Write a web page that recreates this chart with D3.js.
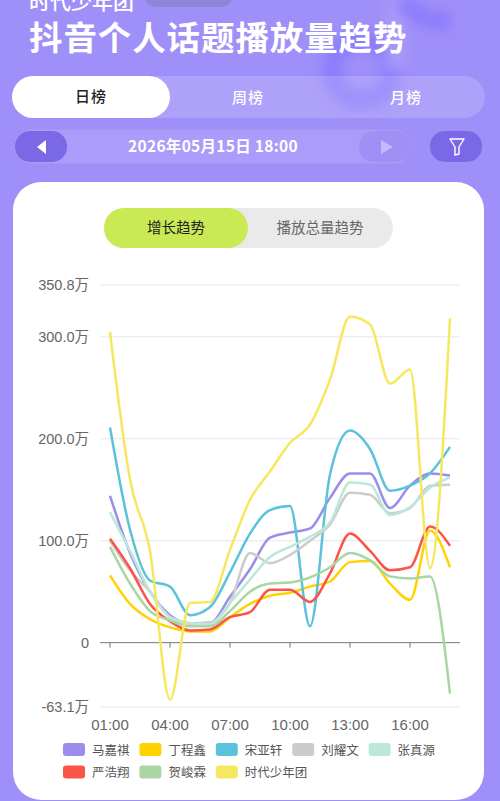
<!DOCTYPE html>
<html><head><meta charset="utf-8">
<script src="https://cdn.jsdelivr.net/npm/d3@7/dist/d3.min.js"></script>
<style>html,body{margin:0;padding:0;background:#9F8FF8;overflow:hidden}svg{display:block}
text{font-family:"Noto Sans CJK SC","Noto Sans",sans-serif}</style></head><body><div id="c"></div>
<script>
const hours=["01:00","02:00","03:00","04:00","05:00","06:00","07:00","08:00","09:00","10:00","11:00","12:00","13:00","14:00","15:00","16:00","17:00","18:00"];
const tickHours=["01:00","04:00","07:00","10:00","13:00","16:00"];
const yTicks=[-63.1,0,100,200,300,350.8];
const yLabels=["-63.1万","0","100.0万","200.0万","300.0万","350.8万"];
const names=["马嘉祺","丁程鑫","宋亚轩","刘耀文","张真源","严浩翔","贺峻霖","时代少年团"];
const colors=["#9A8EEA","#FFD200","#5CC2DC","#CCCCCC","#BCE8D8","#FA5548","#A9D6A2","#F6E85E"];
const maJiaqi=[144,88,50,27,19,19,45,72,103,108,112,142,166,166,132,154,166,164];
const dingChengxin=[66,38,23,15,11,11,25,38,46,49,55,60,79,80,58,42,110,74];
const songYaxuan=[211,111,61,55,27,35,69,107,130,134,16,165,208,190,149,154,166,192];
const liuYaowen=[100,71,50,25,19,20,39,88,78,86,100,116,147,145,127,132,154,155];
const zhangZhenyuan=[128,90,50,25,19,18,39,62,84,94,104,118,157,155,125,133,152,162];
const yanHaoxiang=[102,73,38,21,12,13,25,30,52,52,40,68,107,90,71,74,114,95];
const heJunlin=[94,58,31,22,16,16,31,50,58,59,64,74,88,81,65,63,65,-50];
const group=[305,160,90,-56,39,40,91,140,168,196,214,258,320,312,254,268,73,318];
const series=[maJiaqi,dingChengxin,songYaxuan,liuYaowen,zhangZhenyuan,yanHaoxiang,heJunlin,group];

const svg=d3.select("#c").append("svg").attr("width",500).attr("height",801);
const defs=svg.append("defs");
defs.append("filter").attr("id","b").attr("x","-40%").attr("y","-40%").attr("width","180%").attr("height","180%")
  .append("feGaussianBlur").attr("stdDeviation",6);
svg.append("rect").attr("width",500).attr("height",801).attr("fill","#9F8FF8");
const deco=svg.append("g").attr("filter","url(#b)").attr("fill","none");
deco.append("circle").attr("cx",362).attr("cy",70).attr("r",30).attr("stroke","#8C7DFC").attr("stroke-width",20);
deco.append("path").attr("d","M396 70V-5").attr("stroke","#A89AFB").attr("stroke-width",18);
deco.append("path").attr("d","M402 0Q415 20 450 22").attr("stroke","#8E7CFC").attr("stroke-width",18);

function rr(x,y,w,h,r,f,o){return svg.append("rect").attr("x",x).attr("y",y).attr("width",w).attr("height",h).attr("rx",r).attr("fill",f).attr("opacity",o==null?1:o);}
function tx(s,x,y,size,fill,weight,anchor,ls){return svg.append("text").attr("x",x).attr("y",y).attr("font-size",size).attr("fill",fill).attr("font-weight",weight||400).attr("text-anchor",anchor||"middle").attr("letter-spacing",ls||0).text(s);}

rr(145,-14,87,21,10,"#8F84D8");
tx("时代少年团",29,9,21,"#fff",500,"start",0);
tx("抖音个人话题播放量趋势",29,50,33.5,"#fff",700,"start",0.9);

rr(12,76,473,42,21,"#fff",0.16);
rr(12,76,158,42,21,"#fff");
tx("日榜",91,102,15,"#222",500,"middle",1);
tx("周榜",248,103,15,"#fff",500,"middle",1);
tx("月榜",406,103,15,"#fff",500,"middle",1);

rr(13.5,128.5,399,36,18,"#AB9CFB").attr("stroke","#A090F2").attr("stroke-width",2);
rr(15,131,52,31,15,"#7B68E6");
rr(359,131,52,31,15,"#A08FF5");
rr(430,131,52,31,15,"#7B68E6");
svg.append("path").attr("d","M37 147L46 140V154Z").attr("fill","#fff");
svg.append("path").attr("d","M393 147L381 140V154Z").attr("fill","#C6BAFC");
svg.append("path").attr("d","M450 139H464L459 147V154L455 155V147Z").attr("fill","none").attr("stroke","#fff").attr("stroke-width",1.4).attr("stroke-linejoin","round");
tx("2026年05月15日 18:00",213,152,15.5,"#fff",700,"middle",0.3);

rr(13,182,471,618,28,"#fff");
rr(104,208,289,40,20,"#EAEAEA");
rr(104,208,144,40,20,"#CBE954");
tx("增长趋势",176,233,14.5,"#222",400);
tx("播放总量趋势",320,233,14.5,"#666",400);

const x=d3.scalePoint().domain(hours).range([110,450]);
const y=d3.scaleLinear().domain([-63.1,350.8]).range([707,285]);
const plot=svg.append("g");
plot.selectAll("line.g").data(yTicks.filter(d=>d!==0)).join("line").attr("x1",100).attr("x2",460)
  .attr("y1",d=>y(d)).attr("y2",d=>y(d)).attr("stroke","#E6E6EE").attr("stroke-width",1);
const ax=plot.append("g").attr("transform",`translate(0,${y(0)})`);
ax.append("line").attr("x1",100).attr("x2",460).attr("stroke","#777").attr("stroke-width",1);
ax.selectAll("line.t").data(tickHours).join("line").attr("x1",d=>x(d)).attr("x2",d=>x(d)).attr("y1",0).attr("y2",5).attr("stroke","#777");
const sans='"Liberation Sans","Noto Sans CJK SC",sans-serif';
plot.selectAll("text.y").data(yTicks).join("text").attr("x",89).attr("y",d=>y(d)+5).attr("text-anchor","end")
  .attr("font-size",14.5).attr("fill","#666").style("font-family",sans).text((d,i)=>yLabels[i]);
plot.selectAll("text.x").data(tickHours).join("text").attr("x",d=>x(d)).attr("y",730).attr("text-anchor","middle")
  .attr("font-size",15).attr("fill","#666").style("font-family",sans).text(d=>d);
const line=d3.line().x((d,i)=>x(hours[i])).y(d=>y(d)).curve(d3.curveMonotoneX);
plot.selectAll("path.s").data(series).join("path").attr("fill","none").attr("stroke",(d,i)=>colors[i]).attr("stroke-width",2.5).attr("d",line);

const lg=svg.append("g").selectAll("g").data(names).join("g")
  .attr("transform",(d,i)=>`translate(${63+76.4*(i%5)},${743+22.5*Math.floor(i/5)})`);
lg.append("rect").attr("width",22).attr("height",13).attr("rx",3).attr("fill",(d,i)=>colors[i]);
lg.append("text").attr("x",29).attr("y",11.5).attr("font-size",12.5).attr("fill","#555").text(d=>d);
</script></body></html>
